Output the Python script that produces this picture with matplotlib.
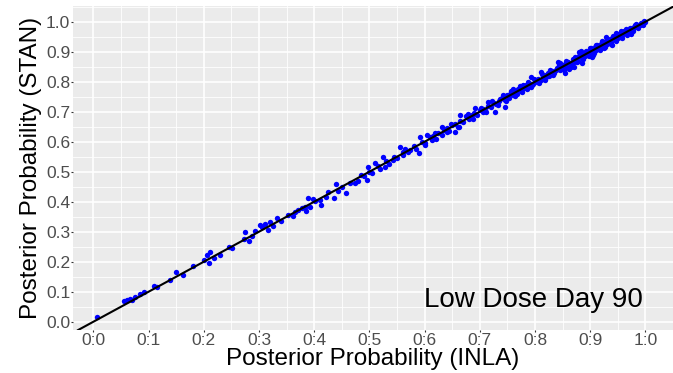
import numpy as np
import matplotlib.pyplot as plt

# posterior probabilities (INLA on x, STAN on y)
inla = [0.007, 0.056, 0.061, 0.067, 0.070, 0.076, 0.085, 0.091, 0.109, 0.115,
        0.139, 0.150, 0.162, 0.180, 0.201, 0.206, 0.212, 0.209, 0.218, 0.229,
        0.245, 0.251, 0.273, 0.275, 0.281, 0.287, 0.292, 0.301, 0.305, 0.311,
        0.317, 0.320, 0.326, 0.332, 0.340, 0.353, 0.362, 0.365, 0.371, 0.377,
        0.383, 0.386, 0.389, 0.392, 0.397, 0.401, 0.410, 0.413, 0.422, 0.425,
        0.435, 0.440, 0.443, 0.451, 0.457, 0.464, 0.473,
        0.495, 0.498, 0.510, 0.525, 0.528, 0.543, 0.555, 0.561, 0.574, 0.589,
        0.592, 0.604, 0.613, 0.631, 0.640, 0.655, 0.664, 0.676, 0.691, 0.706,
        0.715, 0.727, 0.736, 0.745, 0.760, 0.766, 0.778, 0.793, 0.796, 0.811,
        0.820, 0.841, 0.850, 0.862, 0.880, 0.886, 0.899, 0.911, 0.929, 0.947,
        0.965, 0.983, 0.998,
        0.480, 0.485, 0.490, 0.500, 0.505, 0.515, 0.520, 0.530, 0.535, 0.545,
        0.550, 0.560, 0.565, 0.570, 0.580, 0.585, 0.595, 0.600, 0.610, 0.615,
        0.620, 0.625, 0.635, 0.640, 0.645, 0.650, 0.655, 0.660, 0.665, 0.670,
        0.675, 0.680, 0.685, 0.690, 0.695, 0.700, 0.705, 0.710, 0.715, 0.720,
        0.725, 0.730, 0.735, 0.740, 0.745, 0.750, 0.752, 0.755, 0.760, 0.765,
        0.768, 0.770, 0.775, 0.780, 0.783, 0.785, 0.790, 0.795, 0.800, 0.803,
        0.805, 0.810, 0.815, 0.820, 0.823, 0.825, 0.830, 0.835, 0.838, 0.840,
        0.845, 0.848, 0.850, 0.855, 0.858, 0.860, 0.865, 0.868, 0.870, 0.875,
        0.878, 0.880, 0.885, 0.888, 0.890, 0.895, 0.898, 0.900, 0.905, 0.908,
        0.910, 0.915, 0.918, 0.920, 0.925, 0.928, 0.930, 0.935, 0.938, 0.940,
        0.945, 0.948, 0.950, 0.955, 0.958, 0.960, 0.965, 0.968, 0.970, 0.975,
        0.978, 0.980, 0.985, 0.988, 0.990, 0.993, 0.995, 0.998, 1.000,
        0.855, 0.870, 0.905, 0.925,
        0.600, 0.618, 0.632, 0.648, 0.662, 0.678, 0.688, 0.702, 0.712, 0.722,
        0.733, 0.742, 0.748, 0.757, 0.763, 0.772, 0.777, 0.788, 0.792, 0.798,
        0.808, 0.812, 0.818, 0.828, 0.832, 0.843, 0.852, 0.857, 0.863, 0.872,
        0.876, 0.882, 0.887, 0.893, 0.897, 0.902, 0.907, 0.912, 0.917, 0.922,
        0.927, 0.932, 0.937, 0.942, 0.947, 0.952, 0.957, 0.962, 0.967, 0.972,
        0.977, 0.982, 0.987, 0.992, 0.996,
        0.846, 0.866, 0.884, 0.903, 0.921, 0.939, 0.956, 0.974]
stan = [0.015, 0.070, 0.074, 0.077, 0.072, 0.082, 0.093, 0.098, 0.120, 0.115,
        0.140, 0.165, 0.157, 0.185, 0.207, 0.221, 0.233, 0.197, 0.211, 0.221,
        0.248, 0.246, 0.277, 0.299, 0.270, 0.285, 0.304, 0.322, 0.315, 0.326,
        0.307, 0.334, 0.318, 0.345, 0.337, 0.357, 0.351, 0.366, 0.373, 0.379,
        0.384, 0.370, 0.412, 0.381, 0.410, 0.401, 0.406, 0.388, 0.417, 0.434,
        0.414, 0.458, 0.436, 0.450, 0.428, 0.461, 0.463,
        0.472, 0.517, 0.528, 0.550, 0.517, 0.539, 0.583, 0.567, 0.572, 0.561,
        0.617, 0.622, 0.606, 0.650, 0.634, 0.634, 0.689, 0.684, 0.711, 0.700,
        0.733, 0.700, 0.744, 0.716, 0.777, 0.761, 0.789, 0.816, 0.794, 0.833,
        0.822, 0.866, 0.855, 0.844, 0.899, 0.861, 0.911, 0.922, 0.949, 0.961,
        0.977, 0.994, 1.003,
        0.470, 0.490, 0.485, 0.500, 0.495, 0.520, 0.510, 0.535, 0.525, 0.550,
        0.545, 0.555, 0.575, 0.565, 0.585, 0.575, 0.600, 0.595, 0.615, 0.620,
        0.610, 0.630, 0.640, 0.645, 0.635, 0.655, 0.660, 0.650, 0.670, 0.665,
        0.685, 0.675, 0.690, 0.695, 0.690, 0.705, 0.710, 0.705, 0.720, 0.715,
        0.730, 0.725, 0.735, 0.745, 0.740, 0.755, 0.745, 0.760, 0.755, 0.770,
        0.760, 0.775, 0.770, 0.780, 0.790, 0.775, 0.795, 0.790, 0.805, 0.800,
        0.810, 0.805, 0.820, 0.815, 0.830, 0.820, 0.835, 0.830, 0.840, 0.845,
        0.840, 0.855, 0.845, 0.860, 0.850, 0.865, 0.860, 0.875, 0.865, 0.880,
        0.870, 0.885, 0.880, 0.895, 0.885, 0.900, 0.893, 0.905, 0.900, 0.915,
        0.905, 0.920, 0.912, 0.925, 0.920, 0.935, 0.925, 0.940, 0.933, 0.945,
        0.942, 0.952, 0.947, 0.960, 0.955, 0.965, 0.962, 0.972, 0.968, 0.978,
        0.975, 0.984, 0.982, 0.990, 0.988, 0.995, 0.993, 1.000, 0.999,
        0.830, 0.850, 0.890, 0.912,
        0.590, 0.628, 0.622, 0.660, 0.650, 0.692, 0.676, 0.714, 0.700, 0.735,
        0.722, 0.755, 0.736, 0.770, 0.752, 0.785, 0.766, 0.800, 0.782, 0.810,
        0.796, 0.825, 0.806, 0.840, 0.822, 0.855, 0.840, 0.868, 0.850, 0.882,
        0.866, 0.894, 0.876, 0.904, 0.886, 0.912, 0.896, 0.922, 0.906, 0.932,
        0.916, 0.941, 0.927, 0.951, 0.937, 0.960, 0.947, 0.970, 0.957, 0.979,
        0.968, 0.988, 0.978, 0.997, 0.990,
        0.862, 0.848, 0.901, 0.884, 0.936, 0.922, 0.968, 0.958]

ticks = np.arange(0, 1.01, 0.1)
xlabels = ['0:0', '0:1', '0:2', '0:3', '0:4', '0:5', '0:6', '0:7', '0:8', '0:9', '1:0']
ylabels = ['0.0', '0.1', '0.2', '0.3', '0.4', '0.5', '0.6', '0.7', '0.8', '0.9', '1.0']

plt.rcParams['font.family'] = ['Liberation Sans', 'DejaVu Sans']

fig = plt.figure(figsize=(6.73, 3.73), dpi=100)
ax = fig.add_axes([0.1085, 0.115, 0.8915, 0.8686])
ax.set_facecolor('#EBEBEB')

# ggplot-like grid
for t in np.arange(-0.05, 1.06, 0.1):
    ax.axvline(t, color='white', lw=0.6, zorder=0)
    ax.axhline(t, color='white', lw=0.6, zorder=0)
for t in ticks:
    ax.axvline(t, color='white', lw=1.2, zorder=0)
    ax.axhline(t, color='white', lw=1.2, zorder=0)

ax.scatter(inla, stan, s=15, color='#0000FF', linewidths=0, zorder=2)
ax.axline((0, 0), slope=1, color='black', lw=1.5, zorder=3)

ax.set_xlim(-0.037, 1.05)
ax.set_ylim(-0.028, 1.052)
ax.set_xticks(ticks)
ax.set_xticklabels(xlabels)
ax.set_yticks(ticks)
ax.set_yticklabels(ylabels)
ax.tick_params(colors='#333333', labelcolor='#4D4D4D', labelsize=12.5, length=1.5, width=0.8, pad=0.5)
for s in ax.spines.values():
    s.set_visible(False)

ax.set_xlabel('Posterior Probability (INLA)', fontsize=17.5, labelpad=0)
ax.set_ylabel('Posterior Probability (STAN)', fontsize=17.5, labelpad=3)

ax.text(0.995, 0.03, 'Low Dose Day 90', fontsize=20, ha='right', va='bottom', color='black')

fig.savefig('out.png', dpi=100)
